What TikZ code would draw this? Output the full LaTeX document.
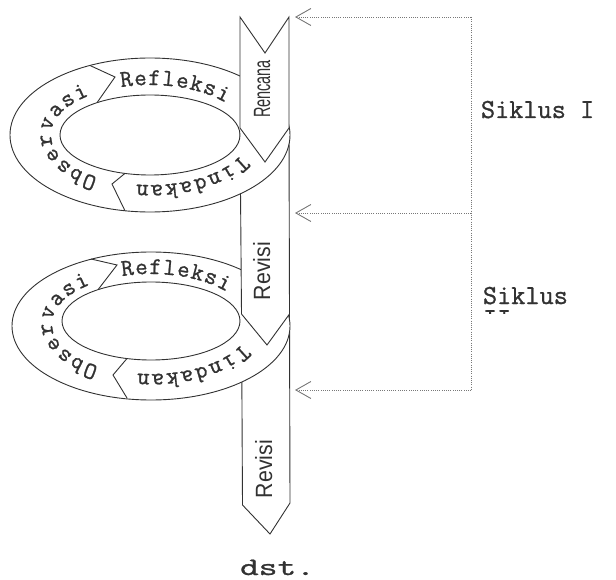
\documentclass[tikz,border=0pt]{standalone}
\usepackage{fontspec}
\usetikzlibrary{decorations.text,arrows.meta,calc}
\newfontfamily\bandfont{Liberation Sans}
\newfontfamily\courfont[FakeBold=1]{Latin Modern Mono}
\definecolor{ink}{RGB}{50,50,50}
\definecolor{dotc}{RGB}{120,120,120}
\begin{document}
\begin{tikzpicture}[x=1pt,y=-1pt,line width=0.9pt,color=ink,
  band/.style={fill=white,draw=ink,line join=miter},
  ring/.style={fill=white,draw=ink,even odd rule},
  divider/.style={draw=ink},
  bandtxt/.style={anchor=base,rotate=90,text=ink,inner sep=0pt,font=\bandfont\fontsize{23.5}{23.5}\selectfont},
  sidelabel/.style={anchor=base west,text=ink,inner sep=0pt,font=\courfont\fontsize{27.5}{27.5}\selectfont},
  fb/.style={draw=dotc,line width=0.8pt,dash pattern=on 0.8pt off 1.4pt},
  fbarrow/.style={fb,-{Straight Barb[length=15pt,width=17pt,line width=0.9pt]}},
  ringword/.style={decorate,decoration={text along path,text align=fit to path,text color=ink,text={|\courfont\fontsize{24}{24}\selectfont|#1}}}
]
\useasboundingbox (0,0) rectangle (616,580);

% ---------- last segment (Revisi, bottom) ----------
\draw[band] (241.5,314) -- (267,345) -- (289.5,314) -- (290,503) -- (270,534) -- (242.5,505) -- cycle;
\node[bandtxt] (rev2) at (272,469) {\resizebox{58pt}{\height}{Revisi}};

% ---------- ring 2 ----------
\coordinate (R2) at (151,324);
\draw[ring] (151,326) ellipse[x radius=139pt,y radius=74pt] (151,321) ellipse[x radius=89pt,y radius=39pt];
\draw[divider] (91,259) -- (117,265) -- (98,289.7);
\draw[divider] (127,398) -- (113,375) -- (127,358.5);
\path[ringword=Refleksi] ($(R2)+(107:99pt and 50pt)$) arc[start angle=107,end angle=40,x radius=99pt,y radius=50pt];
\path[ringword=Observasi] ($(R2)+(238:99pt and 50pt)$) arc[start angle=238,end angle=128,x radius=99pt,y radius=50pt];
\path[ringword=Tindakan] ($(R2)+(337:99pt and 50pt)$) arc[start angle=337,end angle=262,x radius=99pt,y radius=50pt];

% ---------- middle segment (Revisi) ----------
\draw[band] (240,128) -- (265,162) -- (289,128) -- (289.5,314) -- (267,345) -- (241.5,314) -- cycle;
\node[bandtxt] (rev1) at (270,271) {\resizebox{58pt}{\height}{Revisi}};

% ---------- ring 1 ----------
\coordinate (R1) at (150,135);
\draw[ring] (150,135) ellipse[x radius=140pt,y radius=77pt] (150,135) ellipse[x radius=90pt,y radius=40pt];
\draw[divider] (90,65.5) -- (115,77) -- (97,102.7);
\draw[divider] (125,210.8) -- (112,184) -- (125,173.4);
\path[ringword=Refleksi] ($(R1)+(107:99pt and 50pt)$) arc[start angle=107,end angle=40,x radius=99pt,y radius=50pt];
\path[ringword=Observasi] ($(R1)+(238:99pt and 50pt)$) arc[start angle=238,end angle=128,x radius=99pt,y radius=50pt];
\path[ringword=Tindakan] ($(R1)+(337:99pt and 50pt)$) arc[start angle=337,end angle=262,x radius=99pt,y radius=50pt];

% ---------- first segment (Rencana) ----------
\draw[band] (240,17) -- (265,53) -- (289,17) -- (289,128) -- (265,162) -- (240,128) -- cycle;
\node[bandtxt] (ren) at (270,89) {\resizebox{58pt}{\height}{Rencana}};

% ---------- feedback lines ----------
\coordinate (c1) at (471,17);
\coordinate (c2) at (471,213);
\coordinate (c3) at (471,390);
\coordinate (t1) at (295,17);
\coordinate (t2) at (295,213);
\coordinate (t3) at (295,390);
\draw[fb] (c1) -- (c3);
\draw[fbarrow] (c1) -- (t1);
\draw[fbarrow] (c2) -- (t2);
\draw[fbarrow] (c3) -- (t3);

% ---------- labels ----------
\node[sidelabel] (s1) at (480.5,118) {Siklus I};
\node[sidelabel] (s2) at (482.5,304) {Siklus};
\begin{scope}
  \clip (470,300) rectangle (616,313.5);
  \node[sidelabel] (s2b) at (482.5,327) {II};
\end{scope}
\node[anchor=base,inner sep=0pt,text=ink,font=\courfont\fontsize{25}{25}\selectfont] (dst) at (277.5,575) {\scalebox{1.45}[1]{dst.}};
\end{tikzpicture}
\end{document}
